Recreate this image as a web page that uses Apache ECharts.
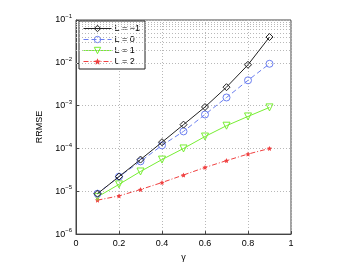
<!DOCTYPE html>
<html><head><meta charset="utf-8">
<script src="https://cdn.jsdelivr.net/npm/echarts@6/dist/echarts.min.js"></script>
<style>html,body{margin:0;padding:0;background:#fff}#c{width:354px;height:267px}</style>
</head><body><div id="c"></div>
<script>
const gammaValues = [0.1,0.2,0.3,0.4,0.5,0.6,0.7,0.8,0.9];
const seriesNames = ['L = −1','L = 0','L = 1','L = 2'];
const rrmseLm1 = [8.8e-6,2.2e-5,5.5e-5,1.4e-4,3.6e-4,9.3e-4,2.7e-3,9.0e-3,4.0e-2];
const rrmseL0  = [8.8e-6,2.2e-5,5.0e-5,1.18e-4,2.5e-4,6.2e-4,1.55e-3,3.9e-3,9.5e-3];
const rrmseL1  = [7.4e-6,1.45e-5,2.9e-5,5.5e-5,1.0e-4,1.9e-4,3.4e-4,5.6e-4,9.1e-4];
const rrmseL2  = [6.2e-6,7.8e-6,1.1e-5,1.6e-5,2.4e-5,3.6e-5,5.2e-5,7.4e-5,1.0e-4];
const xTicks = [0,0.2,0.4,0.6,0.8,1];
const yDecades = [-6,-5,-4,-3,-2,-1];

const minorLines = [];
for (let k = -6; k < -1; k++) for (let m = 2; m <= 9; m++) minorLines.push({yAxis: m*Math.pow(10,k)});

const pairs = a => gammaValues.map((g,i)=>[g,a[i]]);
const gridCol = '#b8b8b8';
const chart = echarts.init(document.getElementById('c'));
const font = 'Liberation Sans, Arial, sans-serif';
const starPath = 'path://M0,-10L2.9,-4L9.5,-3.1L4.7,1.5L5.9,8.1L0,5L-5.9,8.1L-4.7,1.5L-9.5,-3.1L-2.9,-4Z';
const hollow = c => ({color:'rgba(255,255,255,0)',borderColor:c,borderWidth:1});
chart.setOption({
  animation:false,
  backgroundColor:'#fff',
  grid:{left:76,right:63,top:20,bottom:30,show:true,borderColor:'#444',borderWidth:1},
  legend:{
    left:79,top:21,orient:'vertical',backgroundColor:'#fff',borderColor:'#222',borderWidth:1,
    padding:[3,5,3,4],itemGap:2,itemWidth:28,itemHeight:8,
    lineStyle:{width:1},itemStyle:{borderWidth:1},
    textStyle:{fontSize:9,fontFamily:font,color:'#000',padding:[0,0,0,-2]},
    data:seriesNames
  },
  xAxis:{
    type:'value',min:0,max:1,interval:0.2,
    name:'γ',nameLocation:'middle',nameGap:18,nameTextStyle:{fontSize:9,fontFamily:font,color:'#000'},
    axisLine:{show:true,lineStyle:{color:'#444'}},
    axisTick:{inside:true,length:3,lineStyle:{color:'#444'}},
    axisLabel:{fontSize:9,fontFamily:font,color:'#000',margin:5,formatter:v=>String(+v.toFixed(1))},
    splitLine:{show:true,lineStyle:{color:gridCol,type:[1,2],width:1}}
  },
  yAxis:{
    type:'log',logBase:10,min:1e-6,max:1e-1,
    name:'RRMSE',nameLocation:'middle',nameGap:28,nameTextStyle:{fontSize:9,fontFamily:font,color:'#000'},
    axisLine:{show:true,lineStyle:{color:'#444'}},
    axisTick:{inside:true,length:3,lineStyle:{color:'#444'}},
    axisLabel:{fontFamily:font,color:'#000',margin:4,
      formatter:v=>{const e=Math.round(Math.log10(v));return '{b|10}{s|'+(e<0?'−':'')+Math.abs(e)+'}';},
      rich:{b:{fontSize:9,fontFamily:font,color:'#000'},s:{fontSize:6,fontFamily:font,color:'#000',padding:[0,0,7,0]}}},
    splitLine:{show:true,lineStyle:{color:gridCol,type:[1,2],width:1}}
  },
  series:[
    {name:seriesNames[0],type:'line',data:pairs(rrmseLm1),symbol:'diamond',symbolSize:7,
     lineStyle:{color:'#222',width:1},itemStyle:hollow('#222'),color:'#222',z:5,
     markLine:{silent:true,symbol:'none',label:{show:false},animation:false,
       lineStyle:{color:gridCol,type:[1,2],width:1},data:minorLines}},
    {name:seriesNames[1],type:'line',data:pairs(rrmseL0),symbol:'circle',symbolSize:7,
     lineStyle:{color:'#6c7ff0',width:1,type:[5,3]},itemStyle:hollow('#6c7ff0'),color:'#6c7ff0',z:4},
    {name:seriesNames[2],type:'line',data:pairs(rrmseL1),symbol:'triangle',symbolRotate:180,symbolSize:7,
     lineStyle:{color:'#77ee33',width:1},itemStyle:hollow('#77ee33'),color:'#77ee33',z:3},
    {name:seriesNames[3],type:'line',data:pairs(rrmseL2),symbol:starPath,symbolSize:5,
     lineStyle:{color:'#f04040',width:1,type:[5,2,1,2]},itemStyle:{color:'#f04040'},z:2}
  ]
});
</script></body></html>
